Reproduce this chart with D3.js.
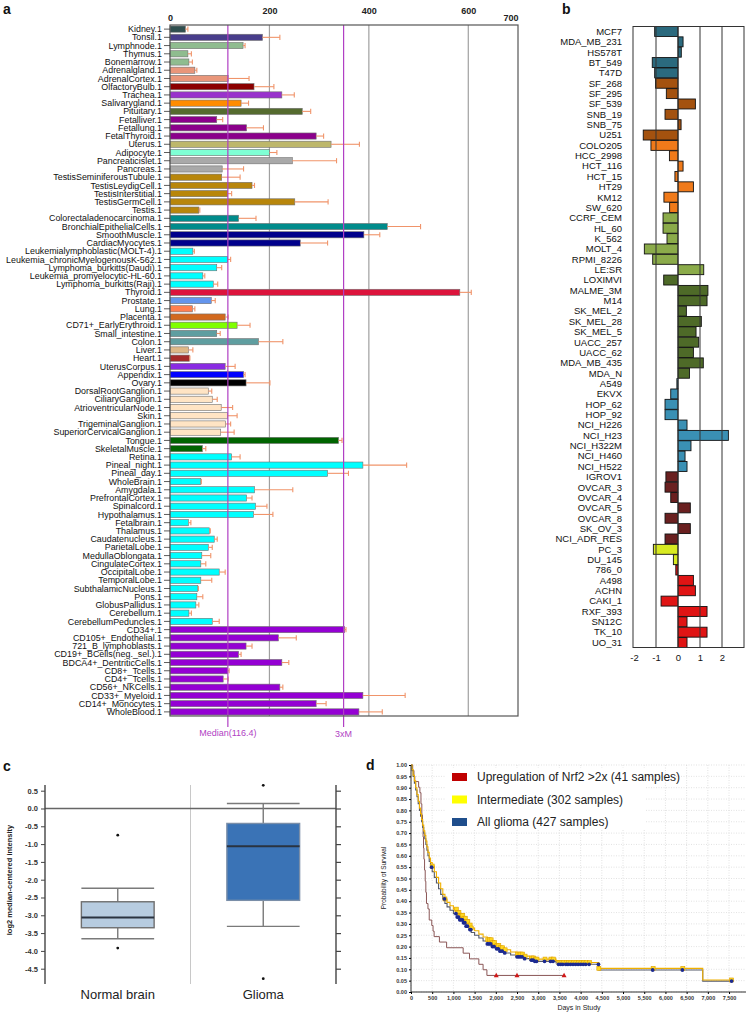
<!DOCTYPE html>
<html><head><meta charset="utf-8">
<script src="https://cdn.jsdelivr.net/npm/d3@7/dist/d3.min.js"></script>
<style>
html,body{margin:0;padding:0;background:#fff;}
svg{display:block;font-family:"Liberation Sans",Arial,Helvetica,sans-serif;}
</style></head><body>
<svg id="fig" width="750" height="1015"></svg>
<script>
// ---------- Panel a data ----------
const tissues = ["Kidney.1","Tonsil.1","Lymphnode.1","Thymus.1","Bonemarrow.1","Adrenalgland.1","AdrenalCortex.1","OlfactoryBulb.1","Trachea.1","Salivarygland.1","Pituitary.1","Fetalliver.1","Fetallung.1","FetalThyroid.1","Uterus.1","Adipocyte.1","Pancreaticislet.1","Pancreas.1","TestisSeminiferousTubule.1","TestisLeydigCell.1","TestisInterstitial.1","TestisGermCell.1","Testis.1","Colorectaladenocarcinoma.1","BronchialEpithelialCells.1","SmoothMuscle.1","CardiacMyocytes.1","Leukemialymphoblastic(MOLT-4).1","Leukemia_chronicMyelogenousK-562.1","Lymphoma_burkitts(Daudi).1","Leukemia_promyelocytic-HL-60.1","Lymphoma_burkitts(Raji).1","Thyroid.1","Prostate.1","Lung.1","Placenta.1","CD71+_EarlyErythroid.1","Small_intestine.1","Colon.1","Liver.1","Heart.1","UterusCorpus.1","Appendix.1","Ovary.1","DorsalRootGanglion.1","CiliaryGanglion.1","AtrioventricularNode.1","Skin.1","TrigeminalGanglion.1","SuperiorCervicalGanglion.1","Tongue.1","SkeletalMuscle.1","Retina.1","Pineal_night.1","Pineal_day.1","WholeBrain.1","Amygdala.1","PrefrontalCortex.1","Spinalcord.1","Hypothalamus.1","Fetalbrain.1","Thalamus.1","Caudatenucleus.1","ParietalLobe.1","MedullaOblongata.1","CingulateCortex.1","OccipitalLobe.1","TemporalLobe.1","SubthalamicNucleus.1","Pons.1","GlobusPallidus.1","Cerebellum.1","CerebellumPeduncles.1","CD34+.1","CD105+_Endothelial.1","721_B_lymphoblasts.1","CD19+_BCells(neg._sel.).1","BDCA4+_DentriticCells.1","CD8+_Tcells.1","CD4+_Tcells.1","CD56+_NKCells.1","CD33+_Myeloid.1","CD14+_Monocytes.1","WholeBlood.1"];
const tissueMeans = [31,186,147,36,38,50,117,169,225,143,266,94,154,294,324,200,246,105,104,165,116,251,58,138,437,390,262,46,116,94,66,87,583,83,45,111,135,94,178,37,39,111,148,153,77,85,103,116,112,102,339,65,124,388,317,62,170,154,172,168,37,79,89,77,64,62,99,62,56,54,52,38,85,351,218,153,138,225,116,107,221,388,294,380];
const tissueErrHigh = [36,221,151,43,45,54,159,209,250,158,283,106,188,309,381,215,335,148,141,170,124,318,60,173,504,422,317,49,122,104,70,96,606,91,50,117,161,101,227,46,40,131,151,201,84,95,126,135,122,129,346,72,141,476,359,63,247,165,195,207,42,81,95,85,82,72,111,84,57,66,58,43,99,354,254,165,143,239,119,117,227,473,314,427];
const axisTicksA = [0,200,400,600,700];
const medianLines = [116.4, 349.2];
const medianLabels = ["Median(116.4)","3xM"];
// colour runs (style)
const tissueColorRuns = [["#2f4f4f",1],["#483d8b",1],["#8fbc8f",3],["#e9967a",2],["#8b0000",1],["#9932cc",1],["#ff8c00",1],["#556b2f",1],["#8b008b",3],["#bdb76b",1],["#7fffd4",1],["#a9a9a9",2],["#b8860b",5],["#008b8b",2],["#00008b",2],["#00ffff",5],["#dc143c",1],["#6495ed",1],["#ff7f50",1],["#d2691e",1],["#7fff00",1],["#5f9ea0",2],["#deb887",1],["#a52a2a",1],["#8a2be2",1],["#0000ff",1],["#000000",1],["#ffe4c4",6],["#006400",2],["#00ffff",21],["#9400d3",11]];
const tissueColors = tissueColorRuns.flatMap(([c,n]) => Array(n).fill(c));

// ---------- Panel b data ----------
const cellLines = ["MCF7","MDA_MB_231","HS578T","BT_549","T47D","SF_268","SF_295","SF_539","SNB_19","SNB_75","U251","COLO205","HCC_2998","HCT_116","HCT_15","HT29","KM12","SW_620","CCRF_CEM","HL_60","K_562","MOLT_4","RPMI_8226","LE:SR","LOXIMVI","MALME_3M","M14","SK_MEL_2","SK_MEL_28","SK_MEL_5","UACC_257","UACC_62","MDA_MB_435","MDA_N","A549","EKVX","HOP_62","HOP_92","NCI_H226","NCI_H23","NCI_H322M","NCI_H460","NCI_H522","IGROV1","OVCAR_3","OVCAR_4","OVCAR_5","OVCAR_8","SK_OV_3","NCI_ADR_RES","PC_3","DU_145","786_0","A498","ACHN","CAKI_1","RXF_393","SN12C","TK_10","UO_31"];
const cellLineZ = [-1.06,0.23,0.15,-1.17,-1.06, -1.02,-0.53,0.79,-0.59,0.14,-1.58, -1.23,-0.39,0.23,-0.14,0.70,-0.64,-0.38, -0.68,-0.68,-0.50,-1.53,-1.15,1.17, -0.65,1.36,1.32,0.38,1.06,0.82,0.94,0.70,1.15,0.52, -0.05,-0.33,-0.59,-0.59,0.41,2.29,0.59,0.32,0.41, -0.55,-0.59,-0.33,0.56,-0.59,0.56,-0.59, -1.12,-0.21, -0.10,0.70,0.79,-0.77,1.32,0.41,1.32,0.41];
const cellLineTissue = [].concat(Array(5).fill("Breast"),Array(6).fill("CNS"),Array(7).fill("Colon"),Array(6).fill("Leukemia"),Array(10).fill("Melanoma"),Array(9).fill("Lung"),Array(7).fill("Ovarian"),Array(2).fill("Prostate"),Array(8).fill("Renal"));
const axisTicksB = [-2,-1,0,1,2];
const tissueColorB = {Breast:"#2b6a7e",CNS:"#a4520f",Colon:"#f07a1a",Leukemia:"#8bab4a",Melanoma:"#4e6a28",Lung:"#3a90b4",Ovarian:"#6a2020",Prostate:"#d8ea22",Renal:"#e01414"};

// ---------- Panel c data ----------
const boxGroups = ["Normal brain","Glioma"];
const boxWhiskerLow = [-3.66,-3.31];
const boxQ1 = [-3.35,-2.58];
const boxMedian = [-3.06,-1.06];
const boxQ3 = [-2.62,-0.42];
const boxWhiskerHigh = [-2.24,0.14];
const boxOutliers = [[-0.75,-3.92],[0.65,-4.78]];
const axisTicksC = [0.5,0.0,-0.5,-1.0,-1.5,-2.0,-2.5,-3.0,-3.5,-4.0,-4.5];

// ---------- Panel d data ----------
const kmUpregulated = [[0,1.000],[40,0.976],[70,0.951],[90,0.927],[180,0.902],[210,0.878],[235,0.829],[255,0.780],[270,0.732],[285,0.683],[295,0.634],[305,0.585],[320,0.537],[335,0.488],[350,0.439],[365,0.390],[400,0.366],[430,0.317],[490,0.293],[520,0.268],[545,0.244],[670,0.220],[840,0.195],[1230,0.171],[1380,0.146],[1600,0.122],[1700,0.098],[1790,0.073],[3610,0.073]];
const kmIntermediate = [[0,1.00],[25,0.98],[50,0.955],[80,0.93],[110,0.90],[140,0.87],[170,0.84],[200,0.81],[225,0.785],[250,0.76],[275,0.735],[300,0.71],[325,0.69],[350,0.665],[375,0.64],[400,0.615],[430,0.59],[460,0.57],[500,0.555],[550,0.53],[600,0.505],[650,0.48],[700,0.455],[750,0.43],[800,0.41],[850,0.395],[920,0.38],[1000,0.365],[1080,0.35],[1150,0.338],[1230,0.325],[1300,0.31],[1370,0.295],[1420,0.282],[1500,0.27],[1600,0.255],[1700,0.242],[1800,0.23],[1900,0.218],[2000,0.205],[2100,0.195],[2200,0.186],[2350,0.176],[2500,0.167],[2650,0.158],[2800,0.15],[2900,0.145],[3420,0.138],[3480,0.13],[4430,0.104],[6880,0.053],[7560,0.053]];
const kmAllGlioma = [[0,1.00],[25,0.975],[50,0.95],[80,0.92],[110,0.89],[140,0.86],[170,0.83],[200,0.80],[225,0.775],[250,0.75],[275,0.725],[300,0.70],[325,0.675],[350,0.65],[375,0.625],[400,0.60],[430,0.575],[460,0.55],[500,0.53],[550,0.505],[600,0.48],[650,0.455],[700,0.43],[750,0.41],[800,0.39],[850,0.375],[920,0.36],[1000,0.345],[1080,0.33],[1150,0.318],[1230,0.305],[1300,0.29],[1370,0.275],[1420,0.262],[1500,0.25],[1600,0.238],[1700,0.225],[1800,0.212],[1900,0.2],[2000,0.19],[2100,0.18],[2200,0.172],[2350,0.163],[2500,0.155],[2650,0.147],[2800,0.14],[2900,0.135],[3420,0.128],[3480,0.122],[4430,0.097],[6880,0.048],[7560,0.048]];
const censorUpregulated = [2010,2500,3610];
const censorIntermediate = [500,800,1070,1100,1130,1160,1190,1220,1250,1280,1310,1340,1395,1420,1810,1850,1890,1930,1970,2030,2070,2110,2160,2220,2510,2550,2590,2630,2690,2850,2890,2930,2970,3160,3300,3360,3490,3540,3590,3660,3710,3770,3830,3890,3950,4010,4070,4130,4210,4430,5710,6410,7560];
const censorAllGlioma = [487,790,1060,1090,1120,1150,1180,1210,1240,1270,1300,1330,1390,1410,1800,1840,1880,1920,1960,2020,2060,2100,2150,2210,2500,2540,2580,2620,2680,2840,2880,2920,2960,3150,3290,3350,3480,3530,3580,3650,3700,3760,3820,3880,3940,4000,4060,4120,4200,4420,5700,6400,7560];
const kmLegend = ["Upregulation of Nrf2 >2x (41 samples)","Intermediate (302 samples)","All glioma (427 samples)"];
const kmDayTicks = [0,500,1000,1500,2000,2500,3000,3500,4000,4500,5000,5500,6000,6500,7000,7500];
const kmSurvTicks = [0,0.05,0.10,0.15,0.20,0.25,0.30,0.35,0.40,0.45,0.50,0.55,0.60,0.65,0.70,0.75,0.80,0.85,0.90,0.95,1.00];

const svg = d3.select("#fig");

// panel letters
[["a",3,14],["b",562,14],["c",3,771],["d",366,770]].forEach(([t,x,y])=>{
  svg.append("text").attr("x",x).attr("y",y).text(t).attr("font-size",14).attr("font-weight","bold").attr("fill","#111");
});

// ================= Panel a =================
(function(){
  const g = svg.append("g");
  const x = d3.scaleLinear().domain([0,700]).range([170,518]);
  const y = d3.scaleBand().domain(tissues).range([25,716]).paddingInner(0.25).paddingOuter(0.125);
  g.selectAll("line.grid").data([200,400,600]).join("line")
    .attr("x1",d=>x(d)).attr("x2",d=>x(d)).attr("y1",25).attr("y2",716)
    .attr("stroke","#a0a0a0").attr("stroke-width",1.2);
  g.selectAll("rect.bar").data(tissues).join("rect")
    .attr("x",x(0)).attr("y",d=>y(d))
    .attr("width",(d,i)=>x(tissueMeans[i])-x(0)).attr("height",y.bandwidth())
    .attr("fill",(d,i)=>tissueColors[i]).attr("stroke","#707070").attr("stroke-width",0.6);
  const eb = g.selectAll("g.err").data(tissues).join("g");
  eb.append("line").attr("x1",(d,i)=>x(tissueMeans[i])).attr("x2",(d,i)=>x(tissueErrHigh[i]))
    .attr("y1",d=>y(d)+y.bandwidth()/2).attr("y2",d=>y(d)+y.bandwidth()/2)
    .attr("stroke","#f0946a").attr("stroke-width",1.1);
  eb.append("line").attr("x1",(d,i)=>x(tissueErrHigh[i])).attr("x2",(d,i)=>x(tissueErrHigh[i]))
    .attr("y1",d=>y(d)+0.5).attr("y2",d=>y(d)+y.bandwidth()-0.5)
    .attr("stroke","#f0946a").attr("stroke-width",1.1);
  // median lines
  g.selectAll("line.med").data(medianLines).join("line")
    .attr("x1",d=>x(d)).attr("x2",d=>x(d)).attr("y1",25).attr("y2",727)
    .attr("stroke","#b13fc4").attr("stroke-width",1.2);
  g.selectAll("text.med").data(medianLines).join("text")
    .attr("x",d=>x(d)).attr("y",(d,i)=>i===0?736:737).attr("text-anchor","middle")
    .attr("font-size",9).attr("fill","#b13fc4").text((d,i)=>medianLabels[i]);
  // box
  g.append("rect").attr("x",170).attr("y",25).attr("width",348).attr("height",691)
    .attr("fill","none").attr("stroke","#555").attr("stroke-width",1.2);
  // row ticks + labels
  g.selectAll("line.tk").data(tissues).join("line")
    .attr("x1",164).attr("x2",170).attr("y1",d=>y(d)+y.bandwidth()/2).attr("y2",d=>y(d)+y.bandwidth()/2)
    .attr("stroke","#333").attr("stroke-width",0.8);
  g.selectAll("text.lbl").data(tissues).join("text")
    .attr("x",162).attr("y",d=>y(d)+y.bandwidth()/2).attr("dy","0.35em")
    .attr("text-anchor","end").attr("font-size",8.9).attr("fill","#111").text(d=>d);
  // top axis
  const ax = g.append("g").attr("transform","translate(0,25)")
    .call(d3.axisTop(x).tickValues(axisTicksA).tickSize(0).tickPadding(4));
  ax.select(".domain").remove();
  ax.selectAll("text").attr("font-size",9).attr("font-weight","bold").attr("fill","#222")
    .attr("font-family","Liberation Sans, Arial, sans-serif")
    .attr("transform",d=>(d===0||d===700)?null:"translate(0,-7)")
    .attr("text-anchor",d=>d===700?"end":"middle");
})();

// ================= Panel b =================
(function(){
  const g = svg.append("g");
  const x = d3.scaleLinear().domain([-2,3]).range([634,744]);
  const y = d3.scaleBand().domain(cellLines).range([26.5,647.5]).paddingInner(0.04);
  g.selectAll("rect.bar").data(cellLines).join("rect")
    .attr("x",(d,i)=>x(Math.min(0,cellLineZ[i])))
    .attr("y",d=>y(d)).attr("height",y.bandwidth())
    .attr("width",(d,i)=>Math.abs(x(cellLineZ[i])-x(0)))
    .attr("fill",(d,i)=>tissueColorB[cellLineTissue[i]]).attr("stroke","#111").attr("stroke-width",0.9);
  g.selectAll("line.v").data([-1,0,1,2]).join("line")
    .attr("x1",d=>x(d)).attr("x2",d=>x(d)).attr("y1",26.5).attr("y2",647.5)
    .attr("stroke","#333").attr("stroke-width",1);
  g.append("rect").attr("x",633).attr("y",26.5).attr("width",111).attr("height",621)
    .attr("fill","none").attr("stroke","#333").attr("stroke-width",1);
  g.selectAll("text.lbl").data(cellLines).join("text")
    .attr("x",622).attr("y",d=>y(d)+y.bandwidth()/2).attr("dy","0.35em")
    .attr("text-anchor","end").attr("font-size",9.5).attr("fill","#111").text(d=>d);
  const ax = g.append("g").attr("transform","translate(0,648)")
    .call(d3.axisBottom(x).tickValues(axisTicksB).tickSize(0).tickPadding(6).tickFormat(d=>String(d)));
  ax.select(".domain").remove();
  ax.selectAll("text").attr("font-size",9.5).attr("fill","#111").attr("font-family","Liberation Sans, Arial, sans-serif");
})();

// ================= Panel c =================
(function(){
  const g = svg.append("g");
  const y = d3.scaleLinear().domain([-4.93,0.66]).range([984,785]);
  const x = d3.scaleBand().domain(boxGroups).range([45,336]);
  g.append("line").attr("x1",x.step()+45).attr("x2",x.step()+45).attr("y1",785).attr("y2",984)
    .attr("stroke","#c8c8c8").attr("stroke-width",1);
  g.append("line").attr("x1",45).attr("x2",336).attr("y1",y(0)).attr("y2",y(0))
    .attr("stroke","#666").attr("stroke-width",1.4);
  const fills = ["#b7cce0","#3a73b6"];
  boxGroups.forEach((gr,i)=>{
    const cx = x(gr)+x.bandwidth()/2, w = x.bandwidth()*0.5;
    const col = "#7a7a7a";
    g.append("line").attr("x1",cx).attr("x2",cx).attr("y1",y(boxWhiskerLow[i])).attr("y2",y(boxQ1[i])).attr("stroke",col).attr("stroke-width",1.4);
    g.append("line").attr("x1",cx).attr("x2",cx).attr("y1",y(boxQ3[i])).attr("y2",y(boxWhiskerHigh[i])).attr("stroke",col).attr("stroke-width",1.4);
    [boxWhiskerLow[i],boxWhiskerHigh[i]].forEach(v=>{
      g.append("line").attr("x1",cx-w/2).attr("x2",cx+w/2).attr("y1",y(v)).attr("y2",y(v)).attr("stroke",col).attr("stroke-width",1.4);
    });
    g.append("rect").attr("x",cx-w/2).attr("y",y(boxQ3[i])).attr("width",w).attr("height",y(boxQ1[i])-y(boxQ3[i]))
      .attr("fill",fills[i]).attr("stroke",i===0?"#6f6f6f":"#7a8ea8").attr("stroke-width",1.4);
    g.append("line").attr("x1",cx-w/2).attr("x2",cx+w/2).attr("y1",y(boxMedian[i])).attr("y2",y(boxMedian[i])).attr("stroke","#2a3340").attr("stroke-width",2);
    boxOutliers[i].forEach(v=>{
      g.append("circle").attr("cx",cx).attr("cy",y(v)).attr("r",1.4).attr("fill","#111");
    });
    g.append("text").attr("x",cx).attr("y",999).attr("text-anchor","middle").attr("font-size",13).attr("fill","#222").text(gr);
  });
  const axL = g.append("g").attr("transform","translate(45,0)")
    .call(d3.axisLeft(y).tickValues(axisTicksC).tickSize(4).tickPadding(3).tickFormat(d=>d.toFixed(1)));
  axL.select(".domain").attr("d","M0,785V984").attr("stroke","#444").attr("stroke-width",1.4);
  axL.selectAll(".tick line").attr("stroke","#444");
  axL.selectAll("text").attr("font-size",7.5).attr("font-weight","bold").attr("fill","#333").attr("font-family","Liberation Sans, Arial, sans-serif");
  const axR = g.append("g").attr("transform","translate(336,0)")
    .call(d3.axisRight(y).tickValues(axisTicksC).tickSize(5).tickFormat(""));
  axR.select(".domain").attr("d","M0,785V984").attr("stroke","#444").attr("stroke-width",1.4);
  axR.selectAll(".tick line").attr("stroke","#444").attr("stroke-width",1.2);
  g.append("text").attr("transform","translate(12,880) rotate(-90)").attr("text-anchor","middle")
    .attr("font-size",7.5).attr("font-weight","bold").attr("fill","#222").text("log2 median-centered intensity");
})();

// ================= Panel d =================
(function(){
  const g = svg.append("g");
  const x = d3.scaleLinear().domain([0,7900]).range([411,746]);
  const y = d3.scaleLinear().domain([0,1]).range([992,765]);
  g.selectAll("line.gx").data(kmDayTicks).join("line")
    .attr("x1",d=>x(d)).attr("x2",d=>x(d)).attr("y1",765).attr("y2",992)
    .attr("stroke","#cfcfcf").attr("stroke-width",0.6).attr("stroke-dasharray","1,1.5");
  g.selectAll("line.gy").data(kmSurvTicks).join("line")
    .attr("x1",411).attr("x2",746).attr("y1",d=>y(d)).attr("y2",d=>y(d))
    .attr("stroke","#cfcfcf").attr("stroke-width",0.6).attr("stroke-dasharray","1,1.5");
  const line = d3.line().x(d=>x(d[0])).y(d=>y(d[1])).curve(d3.curveStepAfter);
  const survAt = (curve,day)=>{ let s = curve[0][1]; for (const p of curve) if (p[0] <= day) s = p[1]; return s; };
  g.append("path").attr("d",line(kmUpregulated)).attr("fill","none").attr("stroke","#8a5656").attr("stroke-width",1);
  g.append("path").attr("d",line(kmAllGlioma)).attr("fill","none").attr("stroke","#555a6a").attr("stroke-width",1.1);
  g.append("path").attr("d",line(kmIntermediate)).attr("fill","none").attr("stroke","#f0b000").attr("stroke-width",1.1);
  g.selectAll("rect.ci").data(censorIntermediate).join("rect")
    .attr("x",d=>x(d)-2).attr("y",d=>y(survAt(kmIntermediate,d))-2).attr("width",4).attr("height",4)
    .attr("fill","#ffd820").attr("stroke","#e0a000").attr("stroke-width",0.6);
  g.selectAll("circle.ca").data(censorAllGlioma).join("circle")
    .attr("cx",d=>x(d)).attr("cy",d=>y(survAt(kmAllGlioma,d))).attr("r",1.9).attr("fill","#1c2a90");
  g.selectAll("path.cu").data(censorUpregulated).join("path")
    .attr("d",d=>{const cx=x(d), cy=y(survAt(kmUpregulated,d)); return `M${cx},${cy-2.6}L${cx+2.5},${cy+1.8}L${cx-2.5},${cy+1.8}Z`;})
    .attr("fill","#d01818");
  const axB = g.append("g").attr("transform","translate(0,992)")
    .call(d3.axisBottom(x).tickValues(kmDayTicks).tickSize(2).tickPadding(2).tickFormat(d3.format(",")));
  axB.select(".domain").attr("d","M411,0H746").attr("stroke","#333");
  axB.selectAll("text").attr("font-size",5.5).attr("font-weight","bold").attr("fill","#333").attr("font-family","Liberation Sans, Arial, sans-serif");
  const axL = g.append("g").attr("transform","translate(411,0)")
    .call(d3.axisLeft(y).tickValues(kmSurvTicks).tickSize(2).tickPadding(2).tickFormat(d=>d.toFixed(2)));
  axL.select(".domain").attr("d","M0,765V992").attr("stroke","#333");
  axL.selectAll("text").attr("font-size",5.5).attr("font-weight","bold").attr("fill","#333").attr("font-family","Liberation Sans, Arial, sans-serif");
  g.append("text").attr("x",579).attr("y",1010).attr("text-anchor","middle").attr("font-size",7).attr("fill","#222").text("Days in Study");
  g.append("text").attr("transform","translate(386,878) rotate(-90)").attr("text-anchor","middle").attr("font-size",6.5).attr("fill","#222").text("Probability of Survival");
  const legCols = ["#c00000","#ffff00","#1f4e8c"];
  g.append("rect").attr("x",446).attr("y",768).attr("width",200).attr("height",62).attr("fill","#fff");
  kmLegend.forEach((t,i)=>{
    const ly = 777 + i*22.5;
    g.append("rect").attr("x",452).attr("y",ly-4).attr("width",15).attr("height",8).attr("fill",legCols[i]);
    g.append("text").attr("x",477).attr("y",ly).attr("dy","0.35em").attr("font-size",12).attr("fill","#222").text(t);
  });
})();
</script></body></html>
